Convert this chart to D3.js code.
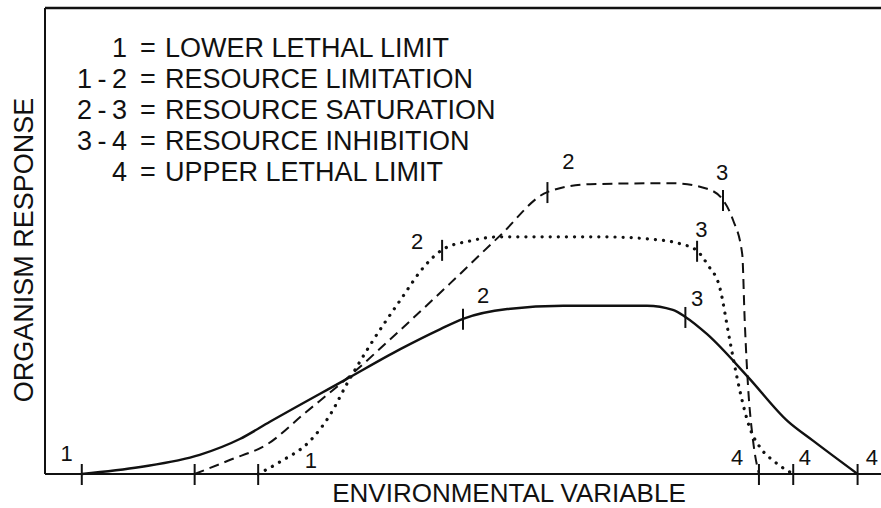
<!DOCTYPE html>
<html>
<head>
<meta charset="utf-8">
<script src="https://cdn.jsdelivr.net/npm/d3@7"></script>
<style>
  body { margin: 0; background: #fff; }
  svg { display: block; }
  text { font-family: "Liberation Sans", Arial, Helvetica, sans-serif; fill: #111; }
</style>
</head>
<body>
<div id="chart"></div>
<script>
// curve values, x = environmental variable (0-100), y = organism response (0-100)
const solidCurve = [[4.4,0],[11.4,1.5],[18.5,4.1],[23.3,7.5],[26.9,11.2],[35.9,20.2],[42.5,26.8],[47.3,31.1],[50.0,33.3],[55.3,35.4],[62.0,36.1],[72.0,36.1],[75.1,35.2],[76.6,33.7],[79.2,30.0],[84.1,20.8],[88.8,11.4],[91.9,7.1],[97.2,0]];
const dashedCurve = [[17.9,0],[22.1,3.0],[26.6,6.4],[31.1,13.1],[35.9,20.2],[42.5,30.9],[48.4,40.8],[54.4,51.1],[60.1,60.5],[65.2,62.2],[75.1,62.4],[79.2,61.2],[81.1,58.8],[82.3,54.5],[83.4,47.2],[83.7,32.8],[84.1,18.7],[84.7,7.1],[85.4,0]];
const dottedCurve = [[25.5,0],[28.1,2.6],[31.7,7.1],[34.1,12.7],[36.1,19.3],[38.9,27.7],[42.5,37.3],[45.5,44.8],[47.5,48.1],[50.8,50.0],[54.4,50.9],[66.4,50.9],[72.4,50.4],[76.0,49.4],[78.0,47.9],[79.3,44.8],[80.7,40.1],[81.9,28.8],[83.1,18.0],[84.3,9.9],[85.5,5.8],[87.3,2.6],[89.5,0]];

// boundary marks (1 = lower limit, 2, 3, 4 = upper limit) for each curve
const solidMarks = [[4.4,0],[50.0,33.3],[76.6,33.7],[97.2,0]];
const dashedMarks = [[17.9,0],[60.1,60.5],[81.1,58.8],[85.4,0]];
const dottedMarks = [[25.5,0],[47.5,48.1],[78.0,47.9],[89.5,0]];

// number labels next to the marks
const markLabels = ["1","2","3","4","2","3","4","1","2","3","4"];
const markLabelPos = [[2.6,4.5],[52.4,38.2],[78.0,37.6],[98.9,3.6],
                      [62.6,67.0],[81.0,64.6],[82.8,3.6],
                      [31.8,2.8],[44.5,50.0],[78.5,52.4],[90.9,3.6]];

const legendLeft = ["1", "1 - 2", "2 - 3", "3 - 4", "4"];
const legendRight = ["LOWER LETHAL LIMIT", "RESOURCE LIMITATION", "RESOURCE SATURATION", "RESOURCE INHIBITION", "UPPER LETHAL LIMIT"];

const xTitle = "ENVIRONMENTAL VARIABLE";
const yTitle = "ORGANISM RESPONSE";

const width = 881, height = 508;
const margin = {top: 8, right: 0, bottom: 34, left: 45};

let svg = d3.select("#chart")
    .append("svg")
    .attr("width", width)
    .attr("height", height);

let x = d3.scaleLinear()
    .domain([0, 100])
    .range([margin.left, width - margin.right]);

let y = d3.scaleLinear()
    .domain([0, 100])
    .range([height - margin.bottom, margin.top]);

// frame: left, top and bottom lines
svg.append("line")
    .attr("x1", x(0)).attr("x2", x(0))
    .attr("y1", y(0)).attr("y2", y(100))
    .attr("stroke", "#111").attr("stroke-width", 2);
svg.append("line")
    .attr("x1", x(0)).attr("x2", x(100))
    .attr("y1", y(100)).attr("y2", y(100))
    .attr("stroke", "#111").attr("stroke-width", 2.5);
svg.append("line")
    .attr("x1", x(0)).attr("x2", x(100))
    .attr("y1", y(0)).attr("y2", y(0))
    .attr("stroke", "#111").attr("stroke-width", 2);

let line = d3.line()
    .x(function(d){ return x(d[0]); })
    .y(function(d){ return y(d[1]); })
    .curve(d3.curveMonotoneX);

svg.append("path")
    .datum(solidCurve)
    .attr("d", line)
    .attr("fill", "none")
    .attr("stroke", "#111")
    .attr("stroke-width", 2.4);

svg.append("path")
    .datum(dashedCurve)
    .attr("d", line)
    .attr("fill", "none")
    .attr("stroke", "#111")
    .attr("stroke-width", 2)
    .attr("stroke-dasharray", "10 6");

svg.append("path")
    .datum(dottedCurve)
    .attr("d", line)
    .attr("fill", "none")
    .attr("stroke", "#111")
    .attr("stroke-width", 3.2)
    .attr("stroke-linecap", "round")
    .attr("stroke-dasharray", "0.1 8");

let marks = solidMarks.concat(dashedMarks, dottedMarks);
svg.append("g")
    .selectAll("line")
    .data(marks)
    .enter()
    .append("line")
    .attr("x1", function(d){ return x(d[0]); })
    .attr("x2", function(d){ return x(d[0]); })
    .attr("y1", function(d){ return y(d[1]) - 10; })
    .attr("y2", function(d){ return y(d[1]) + 11; })
    .attr("stroke", "#111")
    .attr("stroke-width", 2);

svg.append("g")
    .selectAll("text")
    .data(markLabelPos)
    .enter()
    .append("text")
    .attr("x", function(d){ return x(d[0]); })
    .attr("y", function(d){ return y(d[1]); })
    .attr("text-anchor", "middle")
    .attr("dominant-baseline", "central")
    .style("font-size", "22px")
    .text(function(d, i){ return markLabels[i]; });

// legend block
let legend = svg.append("g").style("font-size", "27px");
legendLeft.forEach(function(t, i) {
    let ly = 57 + i * 31;
    legend.append("text")
        .attr("x", 127).attr("y", ly)
        .attr("text-anchor", "end")
        .style("word-spacing", "-2px")
        .text(t);
    legend.append("text")
        .attr("x", 148).attr("y", ly)
        .attr("text-anchor", "middle")
        .text("=");
    legend.append("text")
        .attr("x", 165).attr("y", ly)
        .attr("text-anchor", "start")
        .text(legendRight[i]);
});

svg.append("text")
    .attr("transform", `translate(${509}, ${height - 6})`)
    .attr("text-anchor", "middle")
    .style("font-size", "26px")
    .text(xTitle);

svg.append("text")
    .attr("transform", `translate(${33}, ${(y(0) + y(100)) / 2 + 9}) rotate(-90)`)
    .attr("text-anchor", "middle")
    .style("font-size", "27px")
    .text(yTitle);
</script>
</body>
</html>
